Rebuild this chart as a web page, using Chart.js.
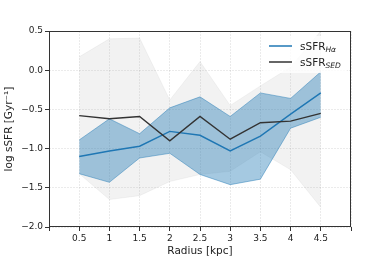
<!DOCTYPE html>
<html>
<head>
<meta charset="utf-8">
<script src="https://cdn.jsdelivr.net/npm/chart.js@4/dist/chart.umd.min.js"></script>
<style>
  html, body { margin: 0; padding: 0; background: #fff; }
  #wrap { width: 390px; height: 260px; }
</style>
</head>
<body>
<div id="wrap"><canvas id="c"></canvas></div>
<script>
// radial profiles, values
const radius = [0.5, 1, 1.5, 2, 2.5, 3, 3.5, 4, 4.5];
const sfrHa = [-1.10, -1.03, -0.97, -0.78, -0.83, -1.03, -0.84, -0.56, -0.29];
const sfrHaHi = [-0.89, -0.62, -0.81, -0.48, -0.34, -0.59, -0.29, -0.36, -0.02];
const sfrHaLo = [-1.32, -1.43, -1.12, -1.06, -1.33, -1.46, -1.39, -0.74, -0.60];
const sfrSed = [-0.58, -0.62, -0.59, -0.90, -0.59, -0.88, -0.67, -0.65, -0.55];
const sfrSedHi = [0.17, 0.40, 0.41, -0.38, 0.11, -0.45, -0.20, 0.04, 0.50];
const sfrSedLo = [-1.32, -1.65, -1.60, -1.42, -1.33, -1.29, -1.04, -1.27, -1.75];
const xTicks = [0.5, 1, 1.5, 2, 2.5, 3, 3.5, 4, 4.5];

const FONT = 'DejaVu Sans';
const BLUE = '#1f77b4';
const DARK = '#333333';

function pts(ys) {
  return radius.map((r, i) => ({ x: r, y: ys[i] }));
}

// frame (all four spines)
const framePlugin = {
  id: 'frame',
  afterDatasetsDraw(chart) {
    const a = chart.chartArea, ctx = chart.ctx;
    ctx.save();
    ctx.strokeStyle = '#333';
    ctx.lineWidth = 1;
    ctx.strokeRect(a.left + 0.5, a.top + 0.5, a.right - a.left - 1, a.bottom - a.top - 1);
    ctx.restore();
  }
};

// legend with subscripts, drawn by hand
const legendPlugin = {
  id: 'subLegend',
  afterDraw(chart) {
    const ctx = chart.ctx;
    const a = chart.chartArea;
    const x0 = a.right - 88, y0 = a.top + 5;
    ctx.save();
    ctx.fillStyle = 'rgba(255,255,255,0.8)';
    ctx.fillRect(x0, y0, 84, 37);
    const items = [
      { color: BLUE, sub: 'Hα', y: y0 + 10 },
      { color: DARK, sub: 'SED', y: y0 + 26 }
    ];
    items.forEach(it => {
      ctx.strokeStyle = it.color;
      ctx.lineWidth = 1.5;
      ctx.beginPath();
      ctx.moveTo(x0 + 6, it.y);
      ctx.lineTo(x0 + 29, it.y);
      ctx.stroke();
      ctx.fillStyle = '#222';
      ctx.textBaseline = 'alphabetic';
      ctx.font = '10.5px "' + FONT + '"';
      ctx.fillText('sSFR', x0 + 37, it.y + 3.5);
      const w = ctx.measureText('sSFR').width;
      ctx.font = 'italic 7.5px "' + FONT + '"';
      ctx.fillText(it.sub, x0 + 37 + w, it.y + 6);
    });
    ctx.restore();
  }
};

new Chart(document.getElementById('c'), {
  type: 'line',
  data: {
    datasets: [
      {
        label: 'sed range hi', data: pts(sfrSedHi), order: 6,
        borderColor: 'rgba(128,128,128,0.08)', borderWidth: 1,
        backgroundColor: 'rgba(128,128,128,0.1)', fill: '+1'
      },
      {
        label: 'sed range lo', data: pts(sfrSedLo), order: 5,
        borderColor: 'rgba(128,128,128,0.08)', borderWidth: 1, fill: false
      },
      {
        label: 'ha range hi', data: pts(sfrHaHi), order: 4,
        borderColor: 'rgba(31,119,180,0.45)', borderWidth: 1,
        backgroundColor: 'rgba(31,119,180,0.4)', fill: '+1'
      },
      {
        label: 'ha range lo', data: pts(sfrHaLo), order: 3,
        borderColor: 'rgba(31,119,180,0.45)', borderWidth: 1, fill: false
      },
      {
        label: 'sSFR Hα', data: pts(sfrHa), order: 2,
        borderColor: BLUE, borderWidth: 1.4, fill: false
      },
      {
        label: 'sSFR SED', data: pts(sfrSed), order: 1,
        borderColor: DARK, borderWidth: 1.4, fill: false
      }
    ]
  },
  options: {
    responsive: true,
    maintainAspectRatio: false,
    animation: false,
    elements: { point: { radius: 0 }, line: { tension: 0 } },
    layout: { padding: { top: 31, right: 39, left: 0, bottom: 0 } },
    plugins: {
      legend: { display: false },
      tooltip: { enabled: false }
    },
    scales: {
      x: {
        type: 'linear', min: 0, max: 5,
        afterBuildTicks(scale) {
          scale.ticks = [0].concat(xTicks, [5]).map(v => ({ value: v }));
        },
        afterFit(scale) { scale.height = 33; },
        ticks: {
          font: { family: FONT, size: 9 }, color: '#222', padding: 2,
          maxRotation: 0, autoSkip: false,
          callback: v => (v === 0 || v === 5) ? '' : String(v)
        },
        grid: { color: 'rgba(0,0,0,0.08)', tickColor: '#333', tickLength: 4 },
        border: { display: false, dash: [2, 1] },
        title: {
          display: true, text: 'Radius [kpc]', color: '#222',
          font: { family: FONT, size: 10.5 }, padding: { top: 0, bottom: 2 }
        }
      },
      y: {
        min: -2, max: 0.5,
        afterFit(scale) { scale.width = 49; },
        ticks: {
          stepSize: 0.5, font: { family: FONT, size: 9 }, color: '#222', padding: 2,
          callback: v => v.toFixed(1).replace('-', '\u2212')
        },
        grid: { color: 'rgba(0,0,0,0.08)', tickColor: '#333', tickLength: 4 },
        border: { display: false, dash: [2, 1] },
        title: {
          display: true, text: 'log sSFR [Gyr\u207B\u00B9]', color: '#222',
          font: { family: FONT, size: 10.5 }, padding: { top: 3, bottom: 0 }
        }
      }
    }
  },
  plugins: [framePlugin, legendPlugin]
});
</script>
</body>
</html>
